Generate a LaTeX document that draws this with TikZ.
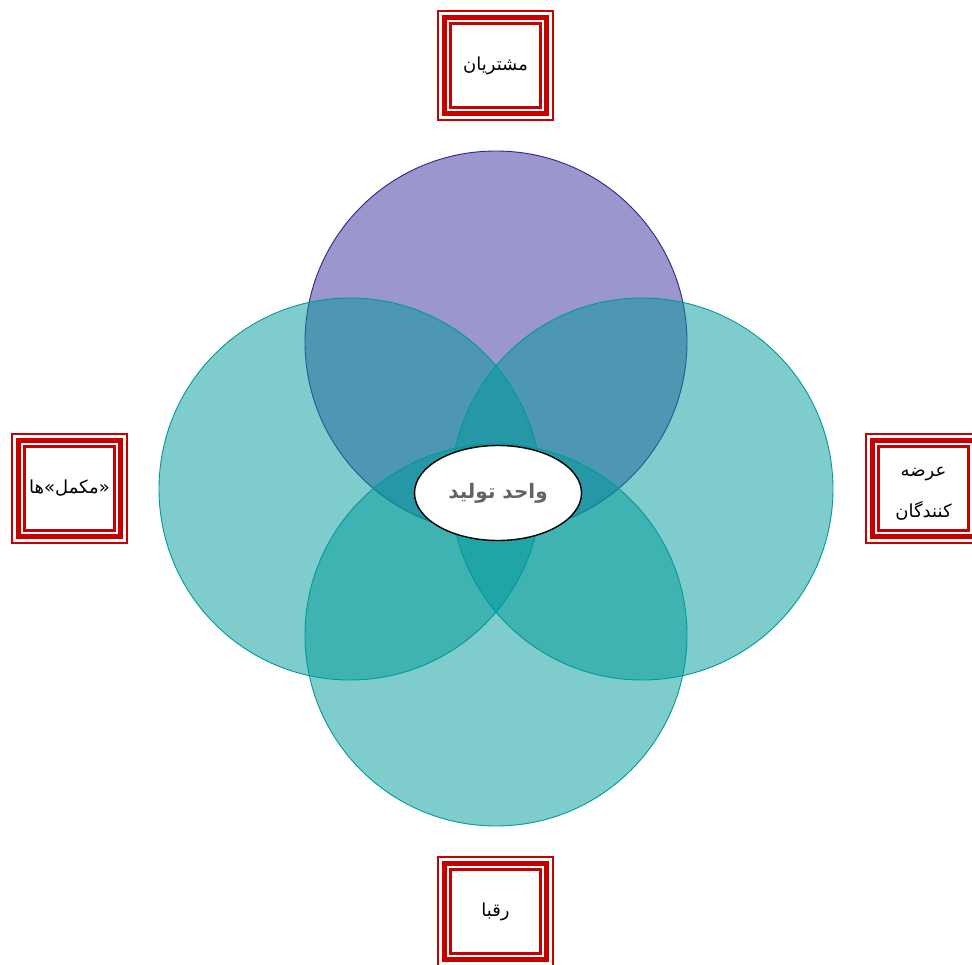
\documentclass[tikz,border=0pt]{standalone}
\usepackage{fontspec}
\newfontfamily\arabicfont[Script=Arabic]{DejaVu Sans}
\TeXXeTstate=1
\usetikzlibrary{shapes.geometric}
\definecolor{boxred}{RGB}{200,0,0}
\definecolor{tealc}{RGB}{0,153,153}
\definecolor{purpc}{RGB}{55,45,155}
\definecolor{purpline}{RGB}{40,40,140}
\definecolor{txtgray}{RGB}{100,100,100}
\tikzset{
  circ/.style={line width=0.9pt, fill opacity=0.5},
  fancy/.style={minimum width=117pt, minimum height=111pt, inner sep=0pt, fill=white,
    font=\arabicfont\fontsize{18}{41}\selectfont, align=center},
  center/.style={ellipse, draw=black, line width=1.4pt, fill=white, minimum width=167pt,
    minimum height=95pt, inner sep=0pt, text=txtgray, font=\arabicfont\bfseries\fontsize{20}{24}\selectfont}
}
\newcommand{\frameit}[1]{%
  \draw[boxred, line width=1.8pt] ([shift={(0.9pt,-0.9pt)}]#1.north west) rectangle ([shift={(-0.9pt,0.9pt)}]#1.south east);
  \draw[boxred, line width=5.3pt] ([shift={(7.6pt,-7.6pt)}]#1.north west) rectangle ([shift={(-7.6pt,7.6pt)}]#1.south east);
  \draw[boxred, line width=2.7pt] ([shift={(13.6pt,-13.6pt)}]#1.north west) rectangle ([shift={(-13.6pt,13.6pt)}]#1.south east);
}
\begin{document}
\begin{tikzpicture}[x=1pt,y=-1pt]
\useasboundingbox (0,0) rectangle (972,965);
\clip (0,0) rectangle (972,965);
% circles
\draw[circ, draw=purpline, fill=purpc] (496,342) circle (191);
\draw[circ, draw=tealc, fill=tealc] (350,489) circle (191);
\draw[circ, draw=tealc, fill=tealc] (642,489) circle (191);
\draw[circ, draw=tealc, fill=tealc] (496,635) circle (191);
% center
\node[center] (core) at (498,493) {\beginR واحد تولید\endR};
% boxes
\node[fancy] (top) at (495.5,65.5) {\beginR مشتریان\endR};
\node[fancy] (left) at (69.5,488.5) {\beginR «مکمل»ها\endR};
\node[fancy, minimum height=0pt] (righttext) at (923.5,494) {\beginR عرضه\endR\\\beginR کنندگان\endR};
\node[fancy, fill=none] (right) at (923.5,488.5) {};
\frameit{right}
\node[fancy] (bottom) at (495.5,911.5) {\beginR رقبا\endR};
\frameit{top}
\frameit{left}
\frameit{bottom}
\end{tikzpicture}
\end{document}
